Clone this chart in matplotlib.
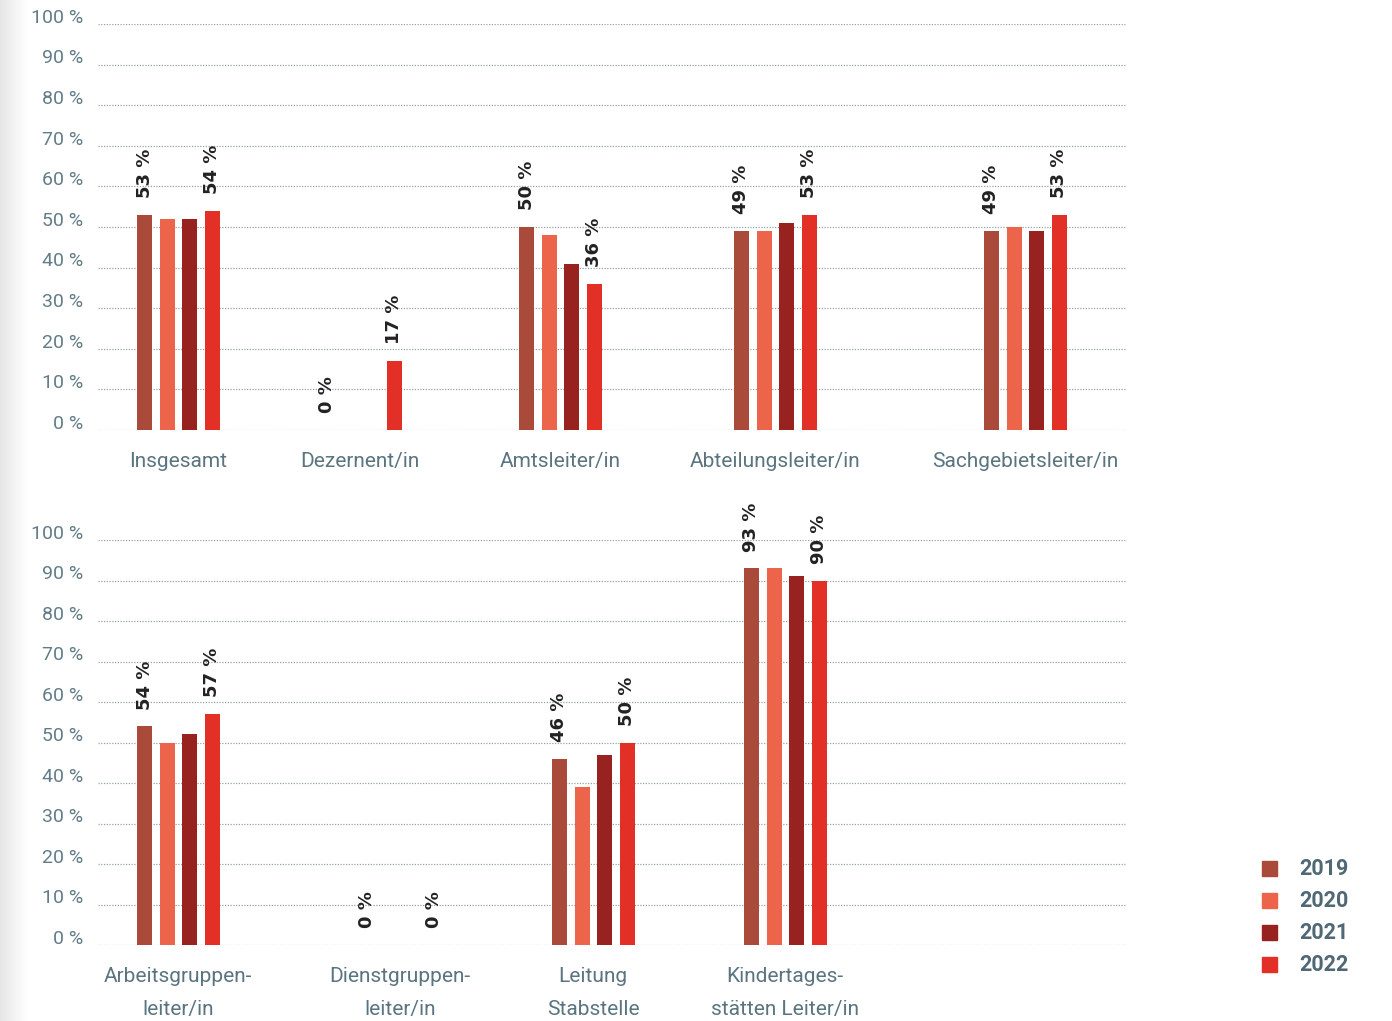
import numpy as np
import matplotlib
matplotlib.use("Agg")
import matplotlib.pyplot as plt
from matplotlib.transforms import offset_copy

plt.rcParams['font.family'] = ['Roboto', 'DejaVu Sans']

YEARS = ["2019", "2020", "2021", "2022"]
COLORS = ["#a94a3a", "#ec644a", "#982220", "#e33026"]

# oben
CATS_TOP = ["Insgesamt", "Dezernent/in", "Amtsleiter/in", "Abteilungsleiter/in", "Sachgebietsleiter/in"]
TOP_2019 = [53, 0, 50, 49, 49]
TOP_2020 = [52, None, 48, 49, 50]
TOP_2021 = [52, None, 41, 51, 49]
TOP_2022 = [54, 17, 36, 53, 53]

# unten
CATS_BOT = ["Arbeitsgruppen-\nleiter/in", "Dienstgruppen-\nleiter/in", "Leitung\nStabstelle",
            "Kindertages-\nstätten Leiter/in"]
BOT_2019 = [54, 0, 46, 93]
BOT_2020 = [50, None, 39, 93]
BOT_2021 = [52, None, 47, 91]
BOT_2022 = [57, 0, 50, 90]

# Gruppenmitten (x-Einheiten ~ Pixel ab linkem Rand der Achse)
POS_TOP = [80, 262, 462, 677, 927]
POS_BOT = [80, 302, 495, 687]
OFFS = [-33.5, -11, 11.5, 34]
BAR_W = 15
YTICKS = list(range(0, 101, 10))

W, H = 1392, 1021
fig = plt.figure(figsize=(W / 100, H / 100), dpi=100, facecolor="white")

# grauer Verlauf am linken Rand
grad = np.linspace(0.90, 1.0, 64)[None, :]
bg = fig.add_axes([0, 0, 28 / W, 1])
bg.imshow(np.repeat(grad, 2, axis=0), cmap="gray", vmin=0, vmax=1, aspect="auto")
bg.axis("off")

TXT = "#5a7480"


def panel(y0, y100, cats, pos, series, lab_years):
    ax = fig.add_axes([98 / W, 1 - y0 / H, (1127 - 98) / W, (y0 - y100) / H])
    ax.set_xlim(0, 1029)
    ax.set_ylim(0, 100)
    ax.patch.set_alpha(0)
    for s in ax.spines.values():
        s.set_visible(False)
    ax.set_xticks([])
    ax.set_yticks([])
    # Achsenbeschriftung etwas oberhalb der Gitterlinie
    ylab = offset_copy(ax.get_yaxis_transform(), fig=fig, x=-10.5, y=4.5, units="points")
    for t in YTICKS:
        ax.axhline(t, color="#95a4ab", lw=0.9, ls=(0, (1, 1.2)), zorder=0)
        ax.text(0, t, f"{t} %", transform=ylab, ha="right", va="center",
                fontsize=14, color="#627d89")
    for k, vals in enumerate(series):
        for p, v in zip(pos, vals):
            if v is None:
                continue
            x = p + OFFS[k]
            if v > 0:
                ax.bar(x, v, width=BAR_W, color=COLORS[k], zorder=2)
            if k in lab_years:
                ax.annotate(f"{v} %", (x, v), xytext=(0, 12), textcoords="offset points",
                            rotation=90, ha="center", va="bottom", fontsize=13,
                            fontweight="bold", color="#222222", family=["DejaVu Sans"])
    for p, c in zip(pos, cats):
        ax.annotate(c, (p, 0), xytext=(0, -16), textcoords="offset points", ha="center",
                    va="top", fontsize=15, color=TXT, linespacing=1.95,
                    annotation_clip=False)
    return ax


panel(430, 24, CATS_TOP, POS_TOP, [TOP_2019, TOP_2020, TOP_2021, TOP_2022], (0, 3))
panel(945, 540, CATS_BOT, POS_BOT, [BOT_2019, BOT_2020, BOT_2021, BOT_2022], (0, 3))

# Legende
for i, (yr, col) in enumerate(zip(YEARS, COLORS)):
    yc = 869 + 32 * i
    fig.patches.append(plt.Rectangle((1262 / W, 1 - (yc + 7) / H), 15 / W, 15 / H,
                                     transform=fig.transFigure, color=col))
    fig.text(1299 / W, 1 - yc / H, yr, fontsize=15.5, fontweight="bold", color="#4f6873",
             va="center", ha="left")

fig.savefig("out.png", dpi=100, facecolor="white")
